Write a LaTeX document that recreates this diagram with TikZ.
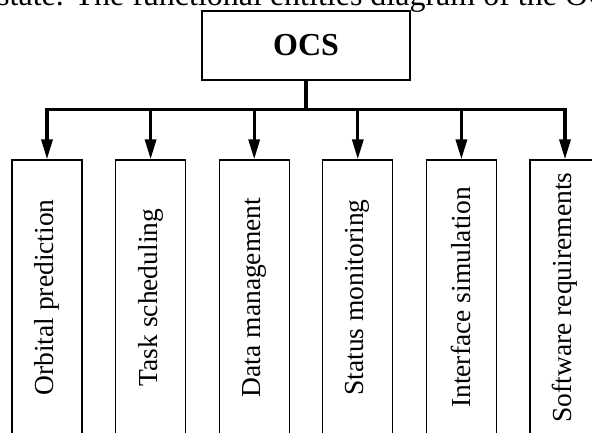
\documentclass[tikz,border=0pt]{standalone}
\usepackage{fontspec}
\setmainfont{Liberation Serif}
\usetikzlibrary{arrows.meta}

\tikzset{
    topbox/.style={draw, line width=1.3pt, minimum width=208pt, minimum height=69pt,
        font=\fontsize{32}{38}\selectfont\bfseries},
    funcbox/.style={draw, line width=1.3pt, rotate=90, minimum width=275pt,
        minimum height=70pt, inner sep=0pt, font=\fontsize{27.5}{33}\selectfont},
    conn/.style={line width=3.3pt},
    connarrow/.style={conn, -{Triangle[length=20pt,width=11pt]}}
}

\begin{document}
\begin{tikzpicture}[x=1pt,y=1pt]
    % Frame of the picture
    \useasboundingbox (0,0) rectangle (592,432);
    \clip (0,0) rectangle (592,432);

    % Caption line cut at the top
    \node[anchor=base west, inner sep=0pt, font=\fontsize{32}{38}\selectfont]
        (caption) at (-3,426.5) {state. The functional entities diagram of the OCS};

    % Root box
    \node[topbox] (ocs) at (306,386.5) {OCS};

    % Hub on the bar
    \coordinate (hub) at (306,322.3);

    % Function boxes
    \foreach \i/\txt in {1/Orbital prediction, 2/Task scheduling, 3/Data management,
                         4/Status monitoring, 5/Interface simulation, 6/Software requirements} {
        \node[funcbox] (f\i) at (47+103.6*\i-103.6,134.5) {\txt};
    }

    % Bar
    \draw[conn] (ocs.south) -- (hub);
    \draw[conn, line cap=rect] (f1.east |- hub) -- (f6.east |- hub);

    % Arrows down to the boxes
    \foreach \i in {1,...,6} {
        \draw[connarrow] (f\i.east |- hub) -- (f\i.east);
    }
\end{tikzpicture}
\end{document}
